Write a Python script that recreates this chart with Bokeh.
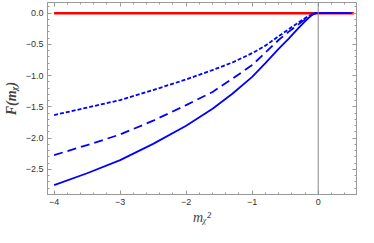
from bokeh.plotting import figure
from bokeh.models import Range1d, SingleIntervalTicker, LinearAxis, Span, CustomJSTickFormatter
from bokeh.embed import file_html
from bokeh.resources import INLINE

# data
x_vals = [-4, -3.5, -3, -2.5, -2, -1.6, -1.3, -1, -0.8, -0.6, -0.45, -0.3, -0.2, -0.14, -0.1, -0.06, -0.03, 0, 0.5]
solid = [-2.75, -2.56, -2.35, -2.09, -1.80, -1.53, -1.29, -1.02, -0.80, -0.57, -0.41, -0.24, -0.13, -0.07, -0.035, -0.01, 0, 0, 0]
dashed = [-2.27, -2.11, -1.94, -1.72, -1.47, -1.26, -1.05, -0.83, -0.63, -0.43, -0.30, -0.18, -0.10, -0.055, -0.028, -0.008, 0, 0, 0]
dotted = [-1.63, -1.51, -1.39, -1.23, -1.06, -0.91, -0.79, -0.64, -0.52, -0.37, -0.26, -0.15, -0.08, -0.045, -0.022, -0.006, 0, 0, 0]
ref_x = [-4, 0.54]
ref_y = [0, 0]

p = figure(width=358, height=227, x_range=Range1d(-4.1, 0.58), y_range=Range1d(-2.9, 0.17),
           output_backend="svg", toolbar_location=None,
           min_border_left=30, min_border_right=2, min_border_top=2, min_border_bottom=10)
p.grid.visible = False
p.outline_line_color = "#999999"
p.background_fill_color = "white"
p.border_fill_color = "white"

xfmt = CustomJSTickFormatter(code="return (tick < 0 ? '\u2212' : '') + Math.abs(tick).toFixed(0);")
yfmt = CustomJSTickFormatter(code="return (tick < -1e-9 ? '\u2212' : '') + Math.abs(tick).toFixed(1);")
blank = CustomJSTickFormatter(code="return '';")

def style(ax, ticker, show_labels):
    ax.ticker = ticker
    ax.axis_line_color = "#999999"
    ax.major_tick_line_color = "#999999"
    ax.minor_tick_line_color = "#999999"
    ax.major_tick_in = 4
    ax.major_tick_out = 0
    ax.minor_tick_in = 2
    ax.minor_tick_out = 0
    ax.major_label_text_font = "Liberation Sans"
    if show_labels:
        ax.major_label_text_font_size = "9px"
        ax.major_label_text_color = "#333333"
        ax.major_label_standoff = 4
    else:
        ax.formatter = blank
        ax.major_label_text_font_size = "1px"
        ax.major_label_standoff = 0

xt = SingleIntervalTicker(interval=1, num_minor_ticks=5)
yt = SingleIntervalTicker(interval=0.5, num_minor_ticks=5)

style(p.xaxis[0], xt, True)
p.xaxis[0].formatter = xfmt
p.xaxis[0].axis_label = "mᵪ²"
p.xaxis[0].axis_label_text_font = "Liberation Serif"
p.xaxis[0].axis_label_text_font_style = "italic"
p.xaxis[0].axis_label_text_font_size = "14px"
p.xaxis[0].axis_label_standoff = 2

style(p.yaxis[0], yt, True)
p.yaxis[0].formatter = yfmt
p.yaxis[0].axis_label = "F(mᵪ)"
p.yaxis[0].axis_label_text_font = "Liberation Serif"
p.yaxis[0].axis_label_text_font_style = "bold italic"
p.yaxis[0].axis_label_text_font_size = "14px"
p.yaxis[0].axis_label_standoff = 4

top = LinearAxis()
style(top, xt, False)
p.add_layout(top, "above")
right = LinearAxis()
style(right, yt, False)
p.add_layout(right, "right")

p.add_layout(Span(location=0, dimension="height", line_color="#888888", line_width=1))

p.line(ref_x, ref_y, line_color="#ff0000", line_width=2.5)
p.line(x_vals, solid, line_color="#0000ff", line_width=1.8, line_join="round")
p.line(x_vals, dashed, line_color="#0000ff", line_width=1.8, line_dash="9 5", line_join="round")
p.line(x_vals, dotted, line_color="#0000ff", line_width=1.8, line_dash="4 2", line_join="round")

open("out.html", "w").write(file_html(p, INLINE))
